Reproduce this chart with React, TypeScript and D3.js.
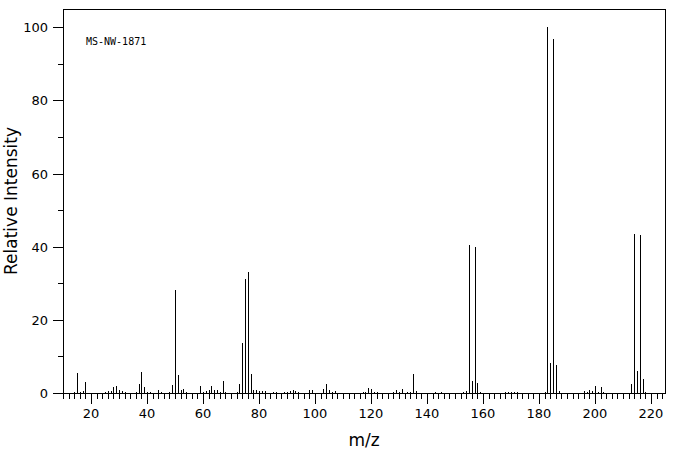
import React, { useEffect, useRef } from 'react';
import * as d3 from 'd3';

// m/z of every peak, and its relative intensity (same order)
const mzValues = [
  14, 15, 16, 17, 18,
  25, 26, 27, 28, 29, 30, 31, 32,
  36, 37, 38, 39, 40, 41, 44, 45,
  48, 49, 50, 51, 52, 53, 54,
  59, 60, 61, 62, 63, 64, 65, 66, 67, 68,
  72, 73, 74, 75, 76, 77, 78, 79, 80, 81, 82,
  85, 86, 89, 90, 91, 92, 93, 94,
  98, 99, 103, 104, 105, 106, 107,
  117, 118, 119, 120, 121, 122,
  128, 129, 130, 131, 133, 134, 135, 136,
  143, 145, 153, 154, 155, 156, 157, 158, 159,
  168, 169, 170, 171, 172,
  182, 183, 184, 185, 186, 187,
  196, 197, 198, 199, 200, 201, 202, 203,
  213, 214, 215, 216, 217, 218,
];
const intensities = [
  0.4, 5.6, 0.4, 0.6, 3.1,
  0.4, 0.6, 0.6, 1.7, 2.0, 0.9, 0.6, 0.4,
  0.4, 2.5, 5.8, 1.7, 0.4, 0.4, 0.9, 0.4,
  0.4, 2.3, 28.3, 5.0, 0.9, 1.2, 0.4,
  2.0, 0.4, 0.6, 0.9, 2.0, 0.9, 0.9, 0.4, 3.4, 0.4,
  0.4, 2.5, 13.8, 31.3, 33.2, 5.3, 0.9, 0.7, 0.6, 0.6, 0.6,
  0.4, 0.4, 0.4, 0.4, 0.6, 0.8, 0.6, 0.4,
  0.9, 0.9, 1.2, 2.5, 0.9, 0.4, 0.6,
  0.4, 0.4, 1.5, 1.0, 0.4, 0.4,
  0.4, 0.9, 0.4, 1.2, 0.4, 0.4, 5.3, 0.6,
  0.4, 0.4, 0.4, 0.6, 40.6, 3.4, 40.0, 2.8, 0.4,
  0.4, 0.4, 0.4, 0.4, 0.4,
  0.4, 100, 8.3, 96.8, 7.7, 0.6,
  0.6, 0.4, 0.9, 0.6, 2.0, 0.4, 1.7, 0.4,
  2.5, 43.6, 6.1, 43.3, 3.9, 0.4,
];
const xTickLabels = [20, 40, 60, 80, 100, 120, 140, 160, 180, 200, 220];
const yTickLabels = [0, 20, 40, 60, 80, 100];
const spectrumId = 'MS-NW-1871';

const App = () => {
  const svgRef = useRef(null);

  useEffect(() => {
    const width = 676;
    const height = 455;
    const left = 63;
    const right = 665;
    const top = 9;
    const bottom = 393;

    const svg = d3.select(svgRef.current);
    svg.selectAll('*').remove();
    svg.attr('width', width).attr('height', height);

    const x = d3.scaleLinear().domain([10, 225]).range([left, right]);
    const y = d3.scaleLinear().domain([0, 105]).range([bottom, top]);
    const px = (v) => Math.round(v) + 0.5;

    const g = svg.append('g').attr('shape-rendering', 'crispEdges');

    // frame
    g.append('rect')
      .attr('x', left + 0.5)
      .attr('y', top + 0.5)
      .attr('width', right - left)
      .attr('height', bottom - top)
      .attr('fill', 'none')
      .attr('stroke', '#000');

    // peaks
    g.selectAll('line.peak')
      .data(mzValues.map((m, i) => ({ m, v: intensities[i] })))
      .enter()
      .append('line')
      .attr('class', 'peak')
      .attr('x1', (d) => px(x(d.m)))
      .attr('x2', (d) => px(x(d.m)))
      .attr('y1', px(y(0)))
      .attr('y2', (d) => Math.round(y(d.v)))
      .attr('stroke', '#000');

    // x ticks: minor every 2, major every 20
    const xMinor = d3.range(10, 225, 2);
    g.selectAll('line.xt')
      .data(xMinor)
      .enter()
      .append('line')
      .attr('x1', (d) => px(x(d)))
      .attr('x2', (d) => px(x(d)))
      .attr('y1', bottom)
      .attr('y2', (d) => (d % 20 === 0 ? bottom + 11 : bottom + 6))
      .attr('stroke', '#000');

    svg.selectAll('text.xl')
      .data(xTickLabels)
      .enter()
      .append('text')
      .attr('x', (d) => x(d))
      .attr('y', 418)
      .attr('text-anchor', 'middle')
      .attr('font-family', 'DejaVu Sans')
      .attr('font-size', 13)
      .text((d) => d);

    // y ticks: major every 20, minor every 10
    g.selectAll('line.yt')
      .data(d3.range(0, 101, 10))
      .enter()
      .append('line')
      .attr('x1', (d) => (d % 20 === 0 ? left - 10 : left - 5))
      .attr('x2', left)
      .attr('y1', (d) => px(y(d)))
      .attr('y2', (d) => px(y(d)))
      .attr('stroke', '#000');

    svg.selectAll('text.yl')
      .data(yTickLabels)
      .enter()
      .append('text')
      .attr('x', 48)
      .attr('y', (d) => y(d) + 5)
      .attr('text-anchor', 'end')
      .attr('font-family', 'DejaVu Sans')
      .attr('font-size', 13)
      .text((d) => d);

    // axis titles
    svg.append('text')
      .attr('transform', `translate(17,${(top + bottom) / 2}) rotate(-90)`)
      .attr('text-anchor', 'middle')
      .attr('font-family', 'DejaVu Sans')
      .attr('font-size', 17)
      .text('Relative Intensity');

    svg.append('text')
      .attr('x', (left + right) / 2)
      .attr('y', 446)
      .attr('text-anchor', 'middle')
      .attr('font-family', 'DejaVu Sans')
      .attr('font-size', 17)
      .text('m/z');

    svg.append('text')
      .attr('x', 86)
      .attr('y', 45)
      .attr('font-family', 'DejaVu Sans Mono')
      .attr('font-size', 10)
      .text(spectrumId);
  }, []);

  return (
    <svg
      ref={svgRef}
      style={{ position: 'absolute', left: 0, top: 0, background: '#fff' }}
    ></svg>
  );
};

export default App;
